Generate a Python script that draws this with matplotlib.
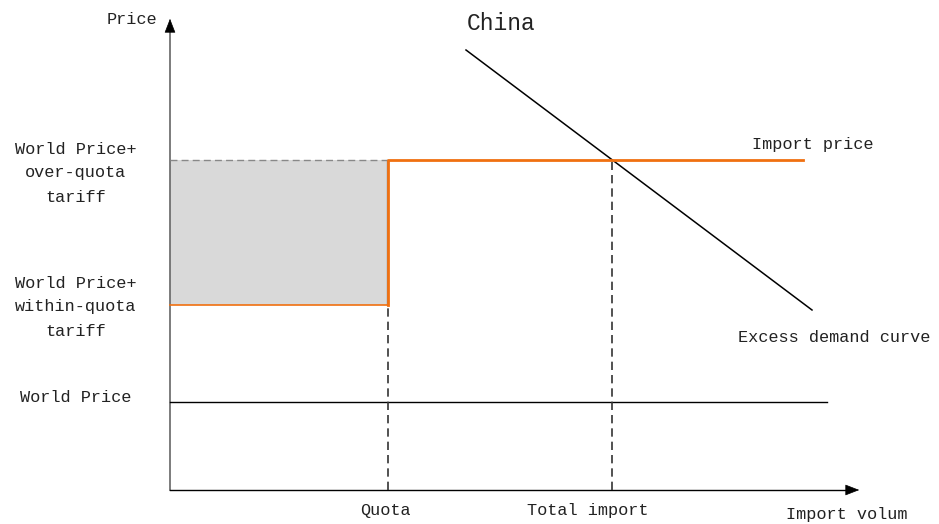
import matplotlib.pyplot as plt
import matplotlib.patches as patches

plt.rcParams['font.family'] = ['Liberation Mono', 'DejaVu Sans Mono']

# diagram values (x = import volume, y = price)
x_axis_end = 692
y_axis_end = 474
quota = 218
total_import = 442
import_line_end = 633
world_line_end = 657
world_price = 88
within_quota_price = 185
over_quota_price = 330
demand_x = [296, 642]
demand_y = [440, 180]

y_labels = ['World Price+\nover-quota\ntariff', 'World Price+\nwithin-quota\ntariff', 'World Price']
y_label_pos = [317, 183, 93]

fig = plt.figure(figsize=(9.39, 5.24), dpi=100)
ax = fig.add_axes([0, 0, 1, 1])
ax.set_xlim(-170, 769)
ax.set_ylim(-34, 490)
ax.axis('off')

# axes
ax.plot([0, 0], [0, y_axis_end - 12], color='#666666', lw=1.2)
ax.plot([0, x_axis_end - 12], [0, 0], color='black', lw=1)
ax.annotate('', xy=(0, y_axis_end), xytext=(0, y_axis_end - 13),
            arrowprops=dict(arrowstyle='-|>,head_length=0.9,head_width=0.35', color='black', lw=0.5))
ax.annotate('', xy=(x_axis_end, 0), xytext=(x_axis_end - 13, 0),
            arrowprops=dict(arrowstyle='-|>,head_length=0.9,head_width=0.35', color='black', lw=0.5))

# quota rent area
ax.add_patch(patches.Rectangle((0, within_quota_price), quota, over_quota_price - within_quota_price,
                               facecolor='#d9d9d9', edgecolor='none', zorder=1))
ax.plot([0, quota], [over_quota_price, over_quota_price], ls=(0, (5, 3)), color='#888888', lw=1, zorder=2)
ax.plot([quota - 1, quota - 1], [within_quota_price, over_quota_price], color='#888888', lw=1, zorder=2)

# import price step
ax.plot([0, quota], [within_quota_price, within_quota_price], color='#f07010', lw=1.2, zorder=3)
ax.plot([quota, quota, import_line_end], [within_quota_price, over_quota_price, over_quota_price],
        color='#f07010', lw=2, zorder=3)

# world price
ax.plot([0, world_line_end], [world_price, world_price], color='black', lw=1)

# dashed verticals
ax.plot([quota, quota], [0, within_quota_price], ls=(0, (5, 3)), color='#333333', lw=1.2)
ax.plot([total_import, total_import], [0, over_quota_price], ls=(0, (5, 3)), color='#333333', lw=1.2)

# excess demand
ax.plot(demand_x, demand_y, color='black', lw=1.1)

fs = 12.2
tc = '#222222'
for lab, yv in zip(y_labels, y_label_pos):
    ax.text(-94, yv, lab, ha='center', va='center', fontsize=fs, color=tc, linespacing=1.75)

ax.text(-13, 470, 'Price', ha='right', va='center', fontsize=fs, color=tc)
ax.text(297, 467, 'China', ha='left', va='center', fontsize=16.5, color=tc)
ax.text(643, 345, 'Import price', ha='center', va='center', fontsize=fs, color=tc)
ax.text(568, 153, 'Excess demand curve', ha='left', va='center', fontsize=fs, color=tc)
ax.text(quota - 3, -20, 'Quota', ha='center', va='center', fontsize=fs, color=tc)
ax.text(total_import - 24, -20, 'Total import', ha='center', va='center', fontsize=fs, color=tc)
ax.text(616, -24, 'Import volum', ha='left', va='center', fontsize=fs, color=tc)

fig.savefig('out.png', dpi=100)
